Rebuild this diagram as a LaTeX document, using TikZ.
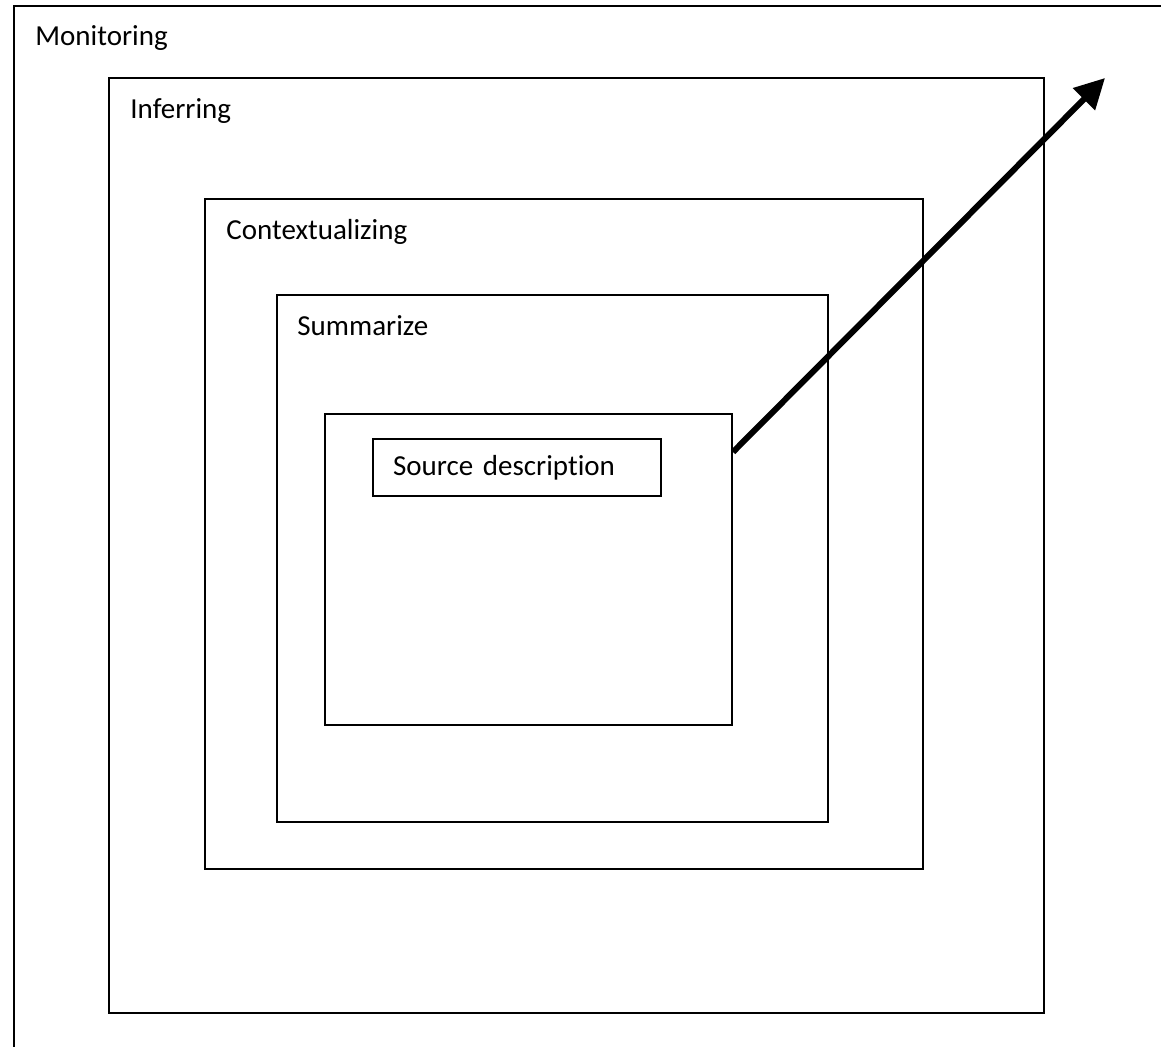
\documentclass[tikz,border=0pt]{standalone}
\usepackage{fontspec}
\setmainfont{Carlito}[Ligatures=NoCommon]
\usetikzlibrary{arrows.meta}

\begin{document}
\begin{tikzpicture}[x=0.5pt,y=-0.5pt,
  box/.style={draw,line width=1pt,rectangle,anchor=north west,inner sep=0pt},
  lbl/.style={anchor=base west,inner sep=0pt,font=\fontsize{14.5}{17}\selectfont},
  link/.style={line width=3pt,-{Triangle[length=15pt,width=15pt]}}]
 %\draw[help lines] (0,0) grid[step=50] (1161,1046);
 \clip (0,0) rectangle (1161,1046);

 \node[box,minimum width=590pt,minimum height=540pt]   (mon) at (13,5)    {};
 \node[box,minimum width=467.5pt,minimum height=467.5pt] (inf) at (108,77) {};
 \node[box,minimum width=359pt,minimum height=335pt]   (ctx) at (204,198) {};
 \node[box,minimum width=275.5pt,minimum height=263.5pt] (sum) at (276,294) {};
 \node[box,minimum width=203.5pt,minimum height=155.5pt] (inner) at (324,413) {};
 \node[box,minimum width=144pt,minimum height=28.5pt,text width=124pt,
       inner xsep=10pt,align=left,font=\fontsize{14.5}{17}\selectfont]
       (src) at (372,438) {Source description};

 \node[lbl] (monlbl) at ([shift={(22,40)}]mon.north west) {Monitoring};
 \node[lbl] (inflbl) at ([shift={(22,41)}]inf.north west) {Inferring};
 \node[lbl] (ctxlbl) at ([shift={(22,41)}]ctx.north west) {Contextualizing};
 \node[lbl] (sumlbl) at ([shift={(21,41)}]sum.north west) {Summarize};

 \coordinate (tail) at ([yshift=-19.5pt]inner.north east);
 \coordinate (head) at (1105,78);
 \draw[link] (tail) -- (head);
\end{tikzpicture}
\end{document}
